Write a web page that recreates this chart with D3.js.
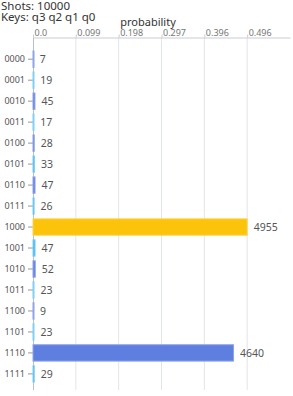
<!DOCTYPE html>
<html>
<head>
<meta charset="utf-8">
<script src="https://cdn.jsdelivr.net/npm/d3@7"></script>
<style>
  body { margin: 0; background: #fff; }
  svg { display: block; font-family: "Noto Sans", "Open Sans", sans-serif; }
</style>
</head>
<body>
<svg class="chart" width="293" height="396"></svg>
<script>
// measured outcomes, 10000 shots
const shots = 10000;
const keys = ['0000', '0001', '0010', '0011', '0100', '0101', '0110', '0111',
              '1000', '1001', '1010', '1011', '1100', '1101', '1110', '1111'];
const counts = [7, 19, 45, 17, 28, 33, 47, 26, 4955, 47, 52, 23, 9, 23, 4640, 29];
const tickValues = [0, 0.0991, 0.1982, 0.2973, 0.3964, 0.4955];
const tickLabels = ['0.0', '0.099', '0.198', '0.297', '0.396', '0.496'];

const svg = d3.select('.chart');
const plotLeft = 33, plotRight = 290, plotTop = 37.5, plotBottom = 390;

const maxP = d3.max(counts) / shots;
const x = d3.scaleLinear().domain([0, maxP * 1.2]).range([plotLeft, plotRight]);
const y = d3.scaleBand().domain(keys).range([46.4, 386.7]).padding(0.22);

function barColor(d, i) {
    if (d === d3.max(counts)) return '#fcc30b';
    return i % 2 === 0 ? '#5f7fe0' : '#3bb6f6';
}
function barStroke(d, i) {
    if (d === d3.max(counts)) return '#fdd452';
    return i % 2 === 0 ? '#8ea4ea' : '#7fcff8';
}

// header text
svg.append('text').attr('x', 1).attr('y', 9.5)
    .attr('font-size', 11.5).attr('fill', '#333').text('Shots: ' + shots);
svg.append('text').attr('x', 1).attr('y', 20.5)
    .attr('font-size', 11.5).attr('fill', '#333').text('Keys: q3 q2 q1 q0');
svg.append('text').attr('x', 148).attr('y', 26)
    .attr('text-anchor', 'middle')
    .attr('font-size', 11).attr('fill', '#333').text('probability');

// vertical grid
svg.append('g').selectAll('line')
    .data(tickValues.slice(1))
    .enter()
    .append('line')
    .attr('x1', d => x(d)).attr('x2', d => x(d))
    .attr('y1', plotTop).attr('y2', plotBottom)
    .attr('stroke', '#e3e3ea').attr('stroke-width', 1);

// top axis
const xAxis = d3.axisTop(x)
    .tickValues(tickValues)
    .tickFormat((d, i) => tickLabels[i])
    .tickSize(3)
    .tickSizeOuter(0);
const gx = svg.append('g').attr('transform', 'translate(0,' + plotTop + ')').call(xAxis);
gx.select('.domain').attr('stroke', '#c8ccd6');
gx.selectAll('.tick line').attr('stroke', '#c8ccd6');
gx.selectAll('.tick text')
    .attr('text-anchor', 'start')
    .attr('x', 1).attr('y', -2)
    .attr('dy', 0)
    .attr('font-size', 9).attr('fill', '#777')
    .attr('font-family', '"Noto Sans", sans-serif');

// left axis
const yAxis = d3.axisLeft(y).tickSize(5).tickSizeOuter(0);
const gy = svg.append('g').attr('transform', 'translate(' + plotLeft + ',0)').call(yAxis);
gy.select('.domain').attr('d', 'M0.5,' + plotTop + 'V' + plotBottom).attr('stroke', '#b8c0d0');
gy.selectAll('.tick line').attr('stroke', '#999');
gy.selectAll('.tick text')
    .attr('font-size', 9).attr('fill', '#555')
    .attr('font-family', '"Noto Sans", sans-serif');

// bars, drawn over the axis line
svg.append('g').selectAll('rect')
    .data(counts)
    .enter()
    .append('rect')
    .attr('x', x(0))
    .attr('y', (d, i) => y(keys[i]))
    .attr('width', d => Math.max(x(d / shots) - x(0), 1))
    .attr('height', y.bandwidth())
    .attr('fill', barColor)
    .attr('stroke', barStroke)
    .attr('stroke-width', 1);

// count labels
svg.append('g').selectAll('text')
    .data(counts)
    .enter()
    .append('text')
    .attr('x', d => x(d / shots) + 6.5)
    .attr('y', (d, i) => y(keys[i]) + y.bandwidth() / 2)
    .attr('dy', '0.35em')
    .attr('font-size', 10.5).attr('fill', '#555')
    .text(d => d);
</script>
</body>
</html>
